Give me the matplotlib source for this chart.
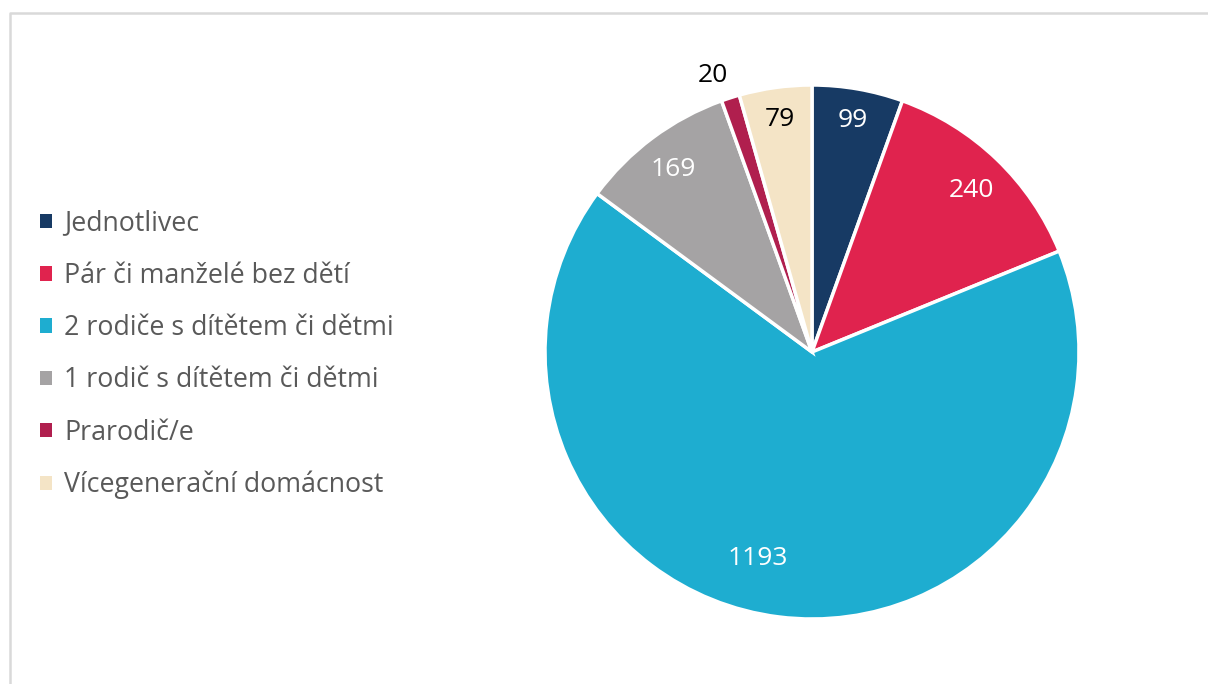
import numpy as np
import matplotlib.pyplot as plt
from matplotlib.patches import Patch
from matplotlib.lines import Line2D

plt.rcParams['font.family'] = ['Open Sans', 'DejaVu Sans']

# Data
kategorie = ["Jednotlivec", "Pár či manželé bez dětí", "2 rodiče s dítětem či dětmi",
             "1 rodič s dítětem či dětmi", "Prarodič/e", "Vícegenerační domácnost"]
pocty = [99, 240, 1193, 169, 20, 79]
barvy = ["#173a64", "#e0234e", "#1eadd0", "#a5a3a4", "#b01f4e", "#f4e4c6"]
barvy_popisku = ["white", "white", "white", "white", "black", "black"]
vzdalenost_popisku = [0.88, 0.85, 0.80, 0.86, 1.10, 0.88]
posun_uhlu = [0, -0.7, -7.5, 0.5, 2.0, 0]

W, H = 1208, 684
fig = plt.figure(figsize=(W / 100, H / 100), dpi=100)

# ramecek grafu (jen levy a horni okraj je videt)
fig.add_artist(Line2D([10 / W, 10 / W, 1.0], [0, 1 - 12.5 / H, 1 - 12.5 / H],
                      transform=fig.transFigure, color="#d9d9d9", lw=1.8))

# kolac
cx, cy, r = 812, 352, 267
ax = fig.add_axes([(cx - r) / W, (H - cy - r) / H, 2 * r / W, 2 * r / H])
wedges, _ = ax.pie(pocty, colors=barvy, startangle=90, counterclock=False, radius=1,
                   wedgeprops=dict(edgecolor="white", linewidth=2.5))
ax.set_xlim(-1, 1)
ax.set_ylim(-1, 1)
ax.set_aspect("equal")
ax.axis("off")

for w, n, c, d, p in zip(wedges, pocty, barvy_popisku, vzdalenost_popisku, posun_uhlu):
    uhel = np.deg2rad((w.theta1 + w.theta2) / 2 + p)
    ax.text(d * np.cos(uhel), d * np.sin(uhel), str(n), color=c, fontsize=19,
            ha="center", va="center")

# legenda
handles = [Patch(facecolor=b, edgecolor="none") for b in barvy]
fig.legend(handles, kategorie, loc="upper left", bbox_to_anchor=(16 / W, 1 - 185.5 / H),
           frameon=False, fontsize=19.3, handlelength=0.45, handleheight=0.45,
           handletextpad=0.45, labelspacing=0.905, labelcolor="#595959")

fig.savefig("out.png", dpi=100)
